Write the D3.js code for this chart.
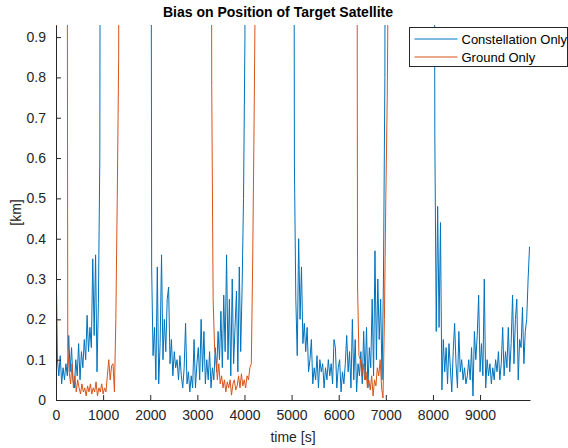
<!DOCTYPE html>
<html>
<head>
<meta charset="utf-8">
<script src="https://cdn.jsdelivr.net/npm/d3@7"></script>
<style>
  html, body { margin: 0; padding: 0; background: #fff; }
  svg { display: block; font-family: "Liberation Sans", Arial, Helvetica, sans-serif; }
</style>
</head>
<body>
<svg id="chart" width="568" height="448"></svg>
<script>
// Sampling interval of the logged bias, seconds
const STEP = 30;

// Constellation Only: start time of each logged run and its bias values [km]
const blueStarts = [0, 2000, 5030, 8010];
const blueRun1 = [0.38, 0.10, 0.06, 0.11, 0.04, 0.08, 0.05, 0.09, 0.06, 0.16, 0.07, 0.13, 0.05, 0.03,
  0.10, 0.06, 0.14, 0.05, 0.12, 0.08, 0.15, 0.10, 0.21, 0.12, 0.18, 0.13, 0.35, 0.16, 0.36, 0.07,
  0.24, 0.60, 3.0];
const blueRun2 = [3.0, 0.33, 0.11, 0.18, 0.05, 0.33, 0.04, 0.14, 0.36, 0.10, 0.20, 0.12, 0.25, 0.28,
  0.09, 0.15, 0.06, 0.12, 0.08, 0.10, 0.05, 0.11, 0.06, 0.03, 0.08, 0.19, 0.04, 0.07, 0.02, 0.06,
  0.03, 0.15, 0.03, 0.09, 0.13, 0.05, 0.20, 0.07, 0.17, 0.04, 0.10, 0.05, 0.12, 0.03, 0.08, 0.05,
  0.13, 0.07, 0.17, 0.10, 0.22, 0.08, 0.26, 0.12, 0.36, 0.10, 0.25, 0.06, 0.30, 0.09, 0.18, 0.27,
  0.07, 0.33, 0.12, 0.28, 0.50, 0.90, 3.0];
const blueRun3 = [3.0, 0.58, 0.25, 0.11, 0.40, 0.20, 0.33, 0.14, 0.19, 0.12, 0.18, 0.07, 0.10, 0.15,
  0.04, 0.08, 0.05, 0.11, 0.03, 0.10, 0.07, 0.09, 0.03, 0.08, 0.05, 0.10, 0.06, 0.09, 0.04, 0.15,
  0.13, 0.03, 0.08, 0.10, 0.02, 0.07, 0.04, 0.09, 0.16, 0.07, 0.12, 0.03, 0.20, 0.05, 0.15, 0.02,
  0.09, 0.06, 0.12, 0.04, 0.17, 0.05, 0.18, 0.03, 0.13, 0.08, 0.25, 0.06, 0.37, 0.10, 0.30, 0.15,
  0.25, 0.05, 0.30, 0.80, 3.0];
const blueRun4 = [3.0, 0.66, 0.17, 0.48, 0.18, 0.44, 0.025, 0.15, 0.07, 0.13, 0.04, 0.14, 0.08, 0.02,
  0.12, 0.19, 0.09, 0.03, 0.17, 0.07, 0.10, 0.05, 0.08, 0.04, 0.06, 0.10, 0.05, 0.13, 0.01, 0.17,
  0.10, 0.16, 0.26, 0.07, 0.14, 0.06, 0.30, 0.03, 0.10, 0.06, 0.09, 0.04, 0.08, 0.05, 0.10, 0.07,
  0.12, 0.05, 0.09, 0.18, 0.06, 0.12, 0.08, 0.18, 0.07, 0.14, 0.26, 0.09, 0.20, 0.25, 0.05, 0.15,
  0.13, 0.23, 0.09, 0.17, 0.20, 0.30, 0.38];

// Ground Only: start time of each logged run and its bias values [km]
const orangeStarts = [0, 220, 3275, 6370];
const orangeRun1 = [0.0, 3.0];
const orangeRun2 = [3.0, 0.13, 0.07, 0.04, 0.09, 0.03, 0.06, 0.02, 0.05, 0.03, 0.015, 0.04, 0.02,
  0.03, 0.01, 0.035, 0.02, 0.04, 0.015, 0.03, 0.02, 0.045, 0.01, 0.03, 0.02, 0.04, 0.015, 0.03,
  0.02, 0.06, 0.10, 0.05, 0.085, 0.09, 0.02, 0.20, 0.50, 0.85, 3.0];
const orangeRun3 = [3.0, 0.78, 0.25, 0.13, 0.10, 0.05, 0.09, 0.04, 0.06, 0.03, 0.05, 0.02, 0.045,
  0.03, 0.05, 0.012, 0.04, 0.05, 0.025, 0.035, 0.06, 0.03, 0.065, 0.035, 0.05, 0.03, 0.06, 0.05,
  0.08, 0.09, 0.35, 0.70, 1.1, 3.0];
const orangeRun4 = [3.0, 0.28, 0.11, 0.10, 0.06, 0.09, 0.05, 0.07, 0.03, 0.05, 0.025, 0.06, 0.01,
  0.05, 0.035, 0.08, 0.06, 0.10, 0.03, 0.005, 0.20, 0.50, 0.75, 1.2, 3.0];

// Axis ticks
const xTicks = [0, 1000, 2000, 3000, 4000, 5000, 6000, 7000, 8000, 9000];
const yTicks = [0, 0.1, 0.2, 0.3, 0.4, 0.5, 0.6, 0.7, 0.8, 0.9];

const seriesNames = ["Constellation Only", "Ground Only"];
const seriesColors = ["#0072BD", "#D95319"];

const blueRuns = [blueRun1, blueRun2, blueRun3, blueRun4];
const orangeRuns = [orangeRun1, orangeRun2, orangeRun3, orangeRun4];

const svg = d3.select("#chart");
const plot = { left: 56, right: 530, top: 25, bottom: 400 };
const axisColor = "#262626";

const x = d3.scaleLinear().domain([0, 10060]).range([plot.left, plot.right]);
const y = d3.scaleLinear().domain([0, 0.93]).range([plot.bottom, plot.top]);

svg.append("defs").append("clipPath").attr("id", "plot-clip")
  .append("rect")
  .attr("x", plot.left).attr("y", plot.top)
  .attr("width", plot.right - plot.left).attr("height", plot.bottom - plot.top);

// Turn runs into [time, value] points
function toPoints(starts, runs) {
  return runs.map((vals, r) => vals.map((v, i) => [starts[r] + i * STEP, v]));
}

const line = d3.line().x(d => x(d[0])).y(d => y(d[1]));
const lines = svg.append("g").attr("clip-path", "url(#plot-clip)");

[[blueStarts, blueRuns], [orangeStarts, orangeRuns]].forEach(([starts, runs], s) => {
  lines.append("g").selectAll("path")
    .data(toPoints(starts, runs))
    .join("path")
    .attr("d", line)
    .attr("fill", "none")
    .attr("stroke", seriesColors[s])
    .attr("stroke-width", 1)
    .attr("stroke-linejoin", "round");
});

// Axes: MATLAB-like, ticks pointing inward, no box
const xAxis = d3.axisBottom(x).tickValues(xTicks).tickSizeInner(-5).tickSizeOuter(0).tickPadding(10)
  .tickFormat(d3.format("d"));
const yAxis = d3.axisLeft(y).tickValues(yTicks).tickSizeInner(-5).tickSizeOuter(0).tickPadding(10)
  .tickFormat(d => d === 0 ? "0" : d3.format(".1f")(d));

const gx = svg.append("g").attr("transform", `translate(0,${plot.bottom})`).call(xAxis);
const gy = svg.append("g").attr("transform", `translate(${plot.left},0)`).call(yAxis);

[gx, gy].forEach(g => {
  g.select(".domain").attr("stroke", axisColor).attr("stroke-width", 1);
  g.selectAll(".tick line").attr("stroke", axisColor).attr("stroke-width", 1);
  g.selectAll(".tick text").attr("fill", axisColor)
    .style("font-size", "14px")
    .style("font-family", "'Liberation Sans', Arial, sans-serif");
});

// Titles
svg.append("text")
  .attr("x", 278).attr("y", 17)
  .attr("text-anchor", "middle")
  .style("font-size", "14px").style("font-weight", "bold")
  .attr("fill", "#000")
  .text("Bias on Position of Target Satellite");

svg.append("text")
  .attr("x", (plot.left + plot.right) / 2).attr("y", 442)
  .attr("text-anchor", "middle")
  .style("font-size", "14px")
  .attr("fill", axisColor)
  .text("time [s]");

svg.append("text")
  .attr("transform", `translate(21,${(plot.top + plot.bottom) / 2}) rotate(-90)`)
  .attr("text-anchor", "middle")
  .style("font-size", "14px")
  .attr("fill", axisColor)
  .text("[km]");

// Legend
const legend = svg.append("g").attr("transform", "translate(409.5,27.5)");
legend.append("rect")
  .attr("width", 158).attr("height", 39)
  .attr("fill", "#fff").attr("stroke", axisColor).attr("stroke-width", 1);

seriesNames.forEach((name, i) => {
  const row = legend.append("g").attr("transform", `translate(0,${11.5 + i * 18})`);
  row.append("line")
    .attr("x1", 5).attr("x2", 48)
    .attr("stroke", seriesColors[i]).attr("stroke-width", 1);
  row.append("text")
    .attr("x", 52).attr("dy", "0.35em")
    .style("font-size", "13px")
    .attr("fill", "#000")
    .text(name);
});
</script>
</body>
</html>
